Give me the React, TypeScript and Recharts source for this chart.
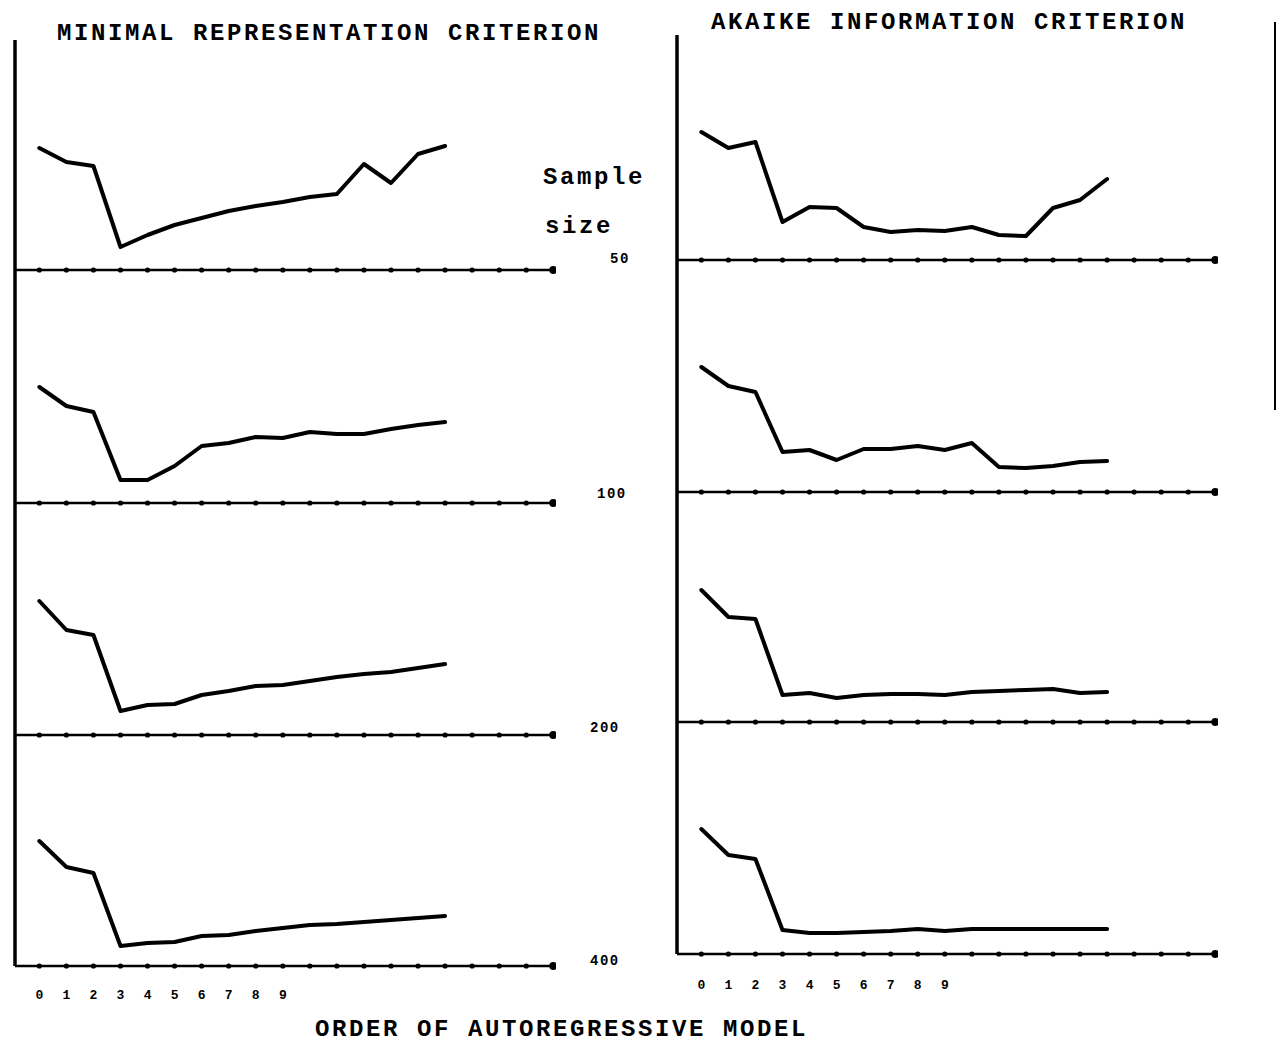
import React from 'react'
import { LineChart, Line, XAxis, YAxis } from 'recharts'

// orders on the horizontal axis (dots on every baseline)
const orderTicks = [0, 1, 2, 3, 4, 5, 6, 7, 8, 9, 10, 11, 12, 13, 14, 15, 16, 17, 18, 19]
const tickLabels = ['0', '1', '2', '3', '4', '5', '6', '7', '8', '9']
const sampleSizes = ['50', '100', '200', '400']

// criterion value for orders 0..15, height above the baseline
const mrc50 = [122, 108, 104, 23, 35, 45, 52, 59, 64, 68, 73, 76, 106, 87, 116, 124]
const mrc100 = [116, 97, 91, 23, 23, 37, 57, 60, 66, 65, 71, 69, 69, 74, 78, 81]
const mrc200 = [134, 105, 100, 24, 30, 31, 40, 44, 49, 50, 54, 58, 61, 63, 67, 71]
const mrc400 = [125, 99, 93, 20, 23, 24, 30, 31, 35, 38, 41, 42, 44, 46, 48, 50]

const aic50 = [128, 112, 118, 38, 53, 52, 33, 28, 30, 29, 33, 25, 24, 52, 60, 81]
const aic100 = [125, 106, 100, 40, 42, 32, 43, 43, 46, 42, 49, 25, 24, 26, 30, 31]
const aic200 = [132, 105, 103, 27, 29, 24, 27, 28, 28, 27, 30, 31, 32, 33, 29, 30]
const aic400 = [125, 99, 95, 24, 21, 21, 22, 23, 25, 23, 25, 25, 25, 25, 25, 25]

const mono = '"Liberation Mono", "DejaVu Sans Mono", monospace'

interface PanelProps {
  left: number
  top: number
  plotHeight: number
  values: number[]
  bottom?: boolean
  labelGap?: number
}

const BaseDot = (props: any) => {
  const { cx, cy, index } = props
  if (cx == null || cy == null) return null
  return <circle key={index} cx={cx} cy={cy} r={index === 19 ? 4 : 2.6} fill="#000" />
}

const Panel: React.FC<PanelProps> = ({ left, top, plotHeight, values, bottom, labelGap }) => {
  const rows = orderTicks.map((o, i) => ({
    order: o,
    base: 0,
    value: i < values.length ? values[i] : null,
  }))
  // small axis band on inner panels so the baseline dots are not cut off
  const axisH = bottom ? 45 : 6
  return (
    <div style={{ position: 'absolute', left, top }}>
      <LineChart width={556} height={plotHeight + axisH} data={rows} margin={{ top: 0, right: 0, bottom: 0, left: 0 }}>
        <XAxis
          type="number"
          dataKey="order"
          domain={[-0.9, 19.1]}
          ticks={orderTicks}
          interval={0}
          height={axisH}
          axisLine={{ stroke: '#000', strokeWidth: 2.5 }}
          tickLine={false}
          tickSize={0}
          tickMargin={labelGap ?? 24}
          tick={bottom ? { fontSize: 13, fontWeight: 'bold', fontFamily: mono, fill: '#000' } : false}
          tickFormatter={(v: number) => (v < tickLabels.length ? tickLabels[v] : '')}
        />
        <YAxis
          type="number"
          domain={[0, plotHeight]}
          width={15}
          tick={false}
          tickLine={false}
          axisLine={{ stroke: '#000', strokeWidth: 3.5 }}
        />
        <Line dataKey="base" stroke="none" dot={<BaseDot />} isAnimationActive={false} />
        <Line
          dataKey="value"
          stroke="#000"
          strokeWidth={4}
          strokeLinejoin="round"
          strokeLinecap="round"
          dot={false}
          connectNulls={false}
          isAnimationActive={false}
        />
      </LineChart>
    </div>
  )
}

const App: React.FC = () => {
  const txt = { fontFamily: mono, fill: '#000' }
  return (
    <div style={{ position: 'absolute', left: 0, top: 0, width: 1284, height: 1044, background: '#fff' }}>
      <Panel left={0} top={40} plotHeight={230} values={mrc50} />
      <Panel left={0} top={270} plotHeight={233} values={mrc100} />
      <Panel left={0} top={503} plotHeight={232} values={mrc200} />
      <Panel left={0} top={735} plotHeight={231} values={mrc400} bottom labelGap={24} />

      <Panel left={662} top={35} plotHeight={225} values={aic50} />
      <Panel left={662} top={260} plotHeight={232} values={aic100} />
      <Panel left={662} top={492} plotHeight={230} values={aic200} />
      <Panel left={662} top={722} plotHeight={232} values={aic400} bottom labelGap={26} />

      <svg width={1284} height={1044} style={{ position: 'absolute', left: 0, top: 0, pointerEvents: 'none' }}>
        <text x={57} y={40} fontSize={24} letterSpacing={2.6} fontWeight="bold" {...txt}>
          MINIMAL REPRESENTATION CRITERION
        </text>
        <text x={711} y={29} fontSize={24} letterSpacing={2.6} fontWeight="bold" {...txt}>
          AKAIKE INFORMATION CRITERION
        </text>
        <text x={315} y={1036} fontSize={24} letterSpacing={2.6} fontWeight="bold" {...txt}>
          ORDER OF AUTOREGRESSIVE MODEL
        </text>
        <text x={543} y={184} fontSize={24} letterSpacing={2.6} fontWeight="bold" {...txt}>
          Sample
        </text>
        <text x={545} y={233} fontSize={24} letterSpacing={2.6} fontWeight="bold" {...txt}>
          size
        </text>
        <text x={610} y={263} fontSize={14} letterSpacing={1.5} fontWeight="bold" {...txt}>
          {sampleSizes[0]}
        </text>
        <text x={597} y={498} fontSize={14} letterSpacing={1.5} fontWeight="bold" {...txt}>
          {sampleSizes[1]}
        </text>
        <text x={590} y={732} fontSize={14} letterSpacing={1.5} fontWeight="bold" {...txt}>
          {sampleSizes[2]}
        </text>
        <text x={590} y={965} fontSize={14} letterSpacing={1.5} fontWeight="bold" {...txt}>
          {sampleSizes[3]}
        </text>
        <line x1={1275} y1={22} x2={1275} y2={410} stroke="#000" strokeWidth={2} />
      </svg>
    </div>
  )
}

export default App
